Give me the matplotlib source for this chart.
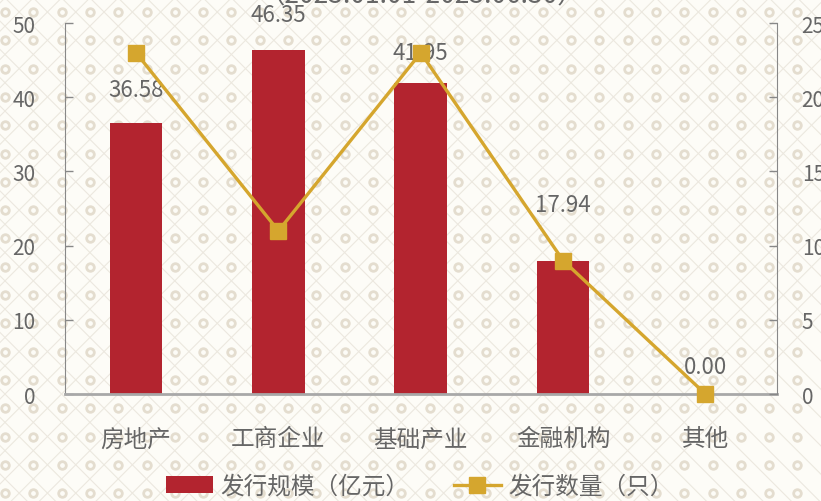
import numpy as np
import matplotlib
matplotlib.use('Agg')
import matplotlib.pyplot as plt
from matplotlib.patches import Patch
from matplotlib.lines import Line2D

plt.rcParams['font.family'] = ['Noto Sans CJK SC', 'DejaVu Sans']

# data
categories = ['房地产', '工商企业', '基础产业', '金融机构', '其他']
scale_values = [36.58, 46.35, 41.95, 17.94, 0.00]   # 发行规模（亿元）
count_values = [23, 11, 23, 9, 0]                   # 发行数量（只）
left_ticks = [0, 10, 20, 30, 40, 50]
right_ticks = [0, 5, 10, 15, 20, 25]
label_offsets = [24, 26, 22, 41, 20]  # points above the bar top

bar_color = '#b3242f'
line_color = '#d5a62e'
text_color = '#666666'
bg_color = '#fdfcf7'

W, H = 821, 502
fig = plt.figure(figsize=(W / 100, H / 100), dpi=100)
fig.patch.set_facecolor(bg_color)

# background pattern (diamond lattice with small rings)
bg = fig.add_axes([0, 0, 1, 1], zorder=-10)
bg.set_xlim(0, W)
bg.set_ylim(H, 0)
bg.axis('off')
step = 28.3
x0, y0 = 5, 13
for k in range(-30, 40):
    c = x0 - y0 + step / 2 + step * k
    bg.plot([c - 50, c + H + 50], [-50, H + 50], color='#ece8df', lw=0.8, zorder=0)
    d = x0 + y0 + step / 2 + step * k
    bg.plot([d + 50, d - H - 50], [-50, H + 50], color='#ece8df', lw=0.8, zorder=0)
gx = x0 + step * np.arange(-1, 31)
gy = y0 + step * np.arange(-1, 19)
GX, GY = np.meshgrid(gx, gy)
bg.scatter(GX.ravel(), GY.ravel(), s=30, facecolor=bg_color, edgecolor='#e4ddcf',
           linewidth=2.0, zorder=1)

# title (mostly cut off at the top)
fig.text(0.513, 1.009, '（2023.01.01-2023.06.30）', ha='center', va='center',
         fontsize=19, color=text_color, fontweight='light')

ax = fig.add_axes([0.079, 0.213, 0.867, 0.739])
ax.set_facecolor('none')
x = np.arange(len(categories))
ax.bar(x, scale_values, width=0.37, color=bar_color, zorder=2)
ax.set_xlim(-0.5, len(categories) - 0.5)
ax.set_ylim(0, 50)
ax.set_yticks(left_ticks)
ax.set_xticks(x)
ax.set_xticklabels(categories, fontweight='light')
ax.tick_params(axis='x', length=0, pad=24, labelsize=17, labelcolor=text_color)
ax.tick_params(axis='y', direction='in', length=6, width=1, color='#888888',
               pad=21, labelsize=15, labelcolor=text_color)
ax.spines['top'].set_visible(False)
ax.spines['right'].set_visible(False)
ax.spines['left'].set_color('#888888')
ax.spines['bottom'].set_color('#a8a8a8')
ax.spines['bottom'].set_linewidth(2)

for xi, v, off in zip(x, scale_values, label_offsets):
    ax.annotate(f'{v:.2f}', (xi, v), xytext=(0, off), textcoords='offset points',
                ha='center', va='center', fontsize=16, color=text_color,
                fontweight='light', zorder=5)

ax2 = ax.twinx()
ax2.set_ylim(0, 25)
ax2.set_yticks(right_ticks)
ax2.plot(x, count_values, color=line_color, lw=2.4, marker='s', markersize=11,
         zorder=3, clip_on=False)
ax2.tick_params(axis='y', direction='in', length=6, width=1, color='#888888',
                pad=18, labelsize=15, labelcolor=text_color)
for s in ['top', 'left', 'bottom']:
    ax2.spines[s].set_visible(False)
ax2.spines['right'].set_color('#888888')

handles = [Patch(facecolor=bar_color, edgecolor='none'),
           Line2D([], [], color=line_color, lw=2.4, marker='s', markersize=11)]
leg = fig.legend(handles, ['发行规模（亿元）', '发行数量（只）'], loc='center',
                 bbox_to_anchor=(0.511, 0.029), ncol=2, frameon=False,
                 prop={'size': 17, 'weight': 'light'},
                 labelcolor=text_color, handlelength=2.0, columnspacing=1.9,
                 handletextpad=0.3)

fig.savefig('out.png', dpi=100, facecolor=fig.get_facecolor())
